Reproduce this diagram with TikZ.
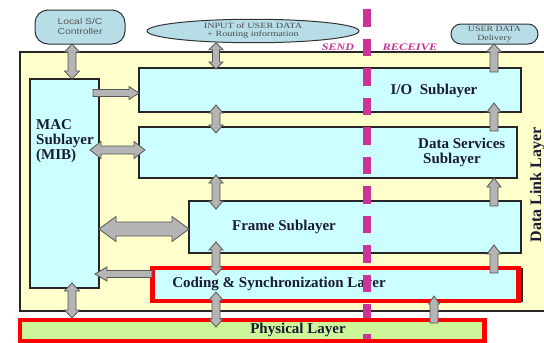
\documentclass[tikz,border=0pt]{standalone}
\usepackage{fontspec}
\setmainfont{Liberation Serif}
\newfontfamily\arialf{Liberation Sans}
\usetikzlibrary{calc,shapes.geometric}
\definecolor{cyanbox}{HTML}{CCFFFF}
\definecolor{yel}{HTML}{FFFFCC}
\definecolor{ovalc}{HTML}{B7DDE6}
\definecolor{physc}{HTML}{CCF59A}
\definecolor{mag}{HTML}{CC3399}
\definecolor{arrfill}{HTML}{B4B4B4}
\definecolor{arrline}{HTML}{555555}
\definecolor{txt}{HTML}{1A1A33}
\newcommand\sx[2]{\scalebox{#1}[1]{#2}}
\tikzset{
  layerbox/.style={draw=black!85, line width=1.1pt, fill=cyanbox, anchor=north west, inner sep=0pt, outer sep=0pt},
  ovalbox/.style={draw=black!80, line width=1pt, fill=ovalc, inner sep=0pt, outer sep=0pt},
  blockarr/.style={draw=arrline, fill=arrfill, line width=0.8pt, line join=miter},
  redframe/.style={draw=red, line width=4.5pt},
  lbl/.style={font=\fontsize{15}{15}\selectfont\bfseries, text=txt, inner sep=0pt},
  smalltxt/.style={text=black!70, inner sep=0pt},
  sr/.style={font=\fontsize{10}{10}\selectfont\bfseries\itshape, text=mag, inner sep=0pt},
}
% double block arrow: #1 end A, #2 end B, #3 shaft half width, #4 head half width, #5 head length
\newcommand\dblarr[5]{%
  \pgfmathsetmacro\bDs{sqrt(#5*#5+#3*#3)}%
  \pgfmathsetmacro\bAs{atan(#3/#5)}%
  \pgfmathsetmacro\bDw{sqrt(#5*#5+#4*#4)}%
  \pgfmathsetmacro\bAw{atan(#4/#5)}%
  \draw[blockarr] (#1) -- ($(#1)!\bDw pt!\bAw:(#2)$) -- ($(#1)!\bDs pt!\bAs:(#2)$)
    -- ($(#2)!\bDs pt!-\bAs:(#1)$) -- ($(#2)!\bDw pt!-\bAw:(#1)$) -- (#2)
    -- ($(#2)!\bDw pt!\bAw:(#1)$) -- ($(#2)!\bDs pt!\bAs:(#1)$)
    -- ($(#1)!\bDs pt!-\bAs:(#2)$) -- ($(#1)!\bDw pt!-\bAw:(#2)$) -- cycle;}
% single block arrow: #1 tail, #2 tip
\newcommand\sglarr[5]{%
  \pgfmathsetmacro\bDs{sqrt(#5*#5+#3*#3)}%
  \pgfmathsetmacro\bAs{atan(#3/#5)}%
  \pgfmathsetmacro\bDw{sqrt(#5*#5+#4*#4)}%
  \pgfmathsetmacro\bAw{atan(#4/#5)}%
  \draw[blockarr] ($(#1)!#3pt!90:(#2)$) -- ($(#2)!\bDs pt!-\bAs:(#1)$) -- ($(#2)!\bDw pt!-\bAw:(#1)$)
    -- (#2) -- ($(#2)!\bDw pt!\bAw:(#1)$) -- ($(#2)!\bDs pt!\bAs:(#1)$)
    -- ($(#1)!#3pt!-90:(#2)$) -- cycle;}
\begin{document}
\begin{tikzpicture}[x=1pt,y=-1pt]
\useasboundingbox (0,0) rectangle (544,343);
\clip (0,0) rectangle (544,343);
\fill[white] (0,0) rectangle (544,343);
% Data link layer frame
\node[layerbox, fill=yel, minimum width=560pt, minimum height=259pt] (dll) at (20,52) {};
\node[font=\fontsize{16}{16}\selectfont\bfseries, text=txt, rotate=90, anchor=base, inner sep=0pt] (dllL) at (541,185) {Data Link Layer};
% sublayers
\node[layerbox, minimum width=69pt, minimum height=209pt] (mac) at (30,79) {};
\node[layerbox, minimum width=382pt, minimum height=44pt] (io) at (139,68) {};
\node[layerbox, minimum width=378pt, minimum height=51pt] (ds) at (139,127) {};
\node[layerbox, minimum width=332pt, minimum height=52pt] (fr) at (189,201) {};
\node[layerbox, minimum width=369pt, minimum height=32pt] (co) at (153,269) {};
\node[anchor=north west, fill=physc, minimum width=464.5pt, minimum height=21pt, inner sep=0pt, outer sep=0pt] (ph) at (20,320) {};
% outer ovals
\node[ovalbox, rounded corners=13pt, minimum width=90pt, minimum height=34pt] (loc) at (80,27)
  {\fontsize{8.5}{10}\selectfont\arialf\color{black!65}\sx{1.22}{\begin{tabular}{@{}c@{}}Local S/C\\Controller\end{tabular}}};
\node[ovalbox, ellipse, minimum width=212pt, minimum height=22pt] (inp) at (253,31)
  {\fontsize{8}{8.3}\selectfont\color{black!70}\sx{1.27}{\begin{tabular}{@{}c@{}}INPUT of USER DATA\\+ Routing information\end{tabular}}};
\node[ovalbox, rounded corners=10pt, minimum width=87pt, minimum height=20pt] (del) at (494.5,34)
  {\fontsize{8}{9.5}\selectfont\color{black!70}\sx{1.23}{\begin{tabular}{@{}c@{}}USER DATA\\Delivery\end{tabular}}};
% send / receive
\node[sr] (send) at (338,47) {\sx{1.2}{SEND}};
\node[sr] (recv) at (410,47) {\sx{1.25}{RECEIVE}};
% labels
\node[lbl, anchor=north west, align=left] (macL) at (36,119) {MAC\\Sublayer\\(MIB)};
\node[lbl] (ioL) at (434,91) {I/O\ \ Sublayer};
\node[lbl, align=left, anchor=west] (dsL) at (418,152) {Data Services\\\hspace*{5pt}Sublayer};
\node[lbl] (frL) at (284,227) {Frame Sublayer};
\node[lbl] (coL) at (279,284) {Coding \& Synchronization Layer};
\node[lbl] (phL) at (298,330) {Physical Layer};
% send/receive divider
\coordinate (dtop) at (367,9);
\coordinate (dbot) at (367,360);
\draw[mag, line width=7.5pt, dash pattern=on 17.5pt off 12pt] (dtop) -- (dbot);
% red highlight frames
\draw[redframe] ($(co.north west)+(-0.5,-1)$) rectangle ($(co.south east)+(-3.5,0)$);
\draw[redframe] (ph.north west) rectangle (ph.south east);
% arrow end points
\coordinate (c1a) at (loc.south -| 72,0);
\coordinate (c1b) at (mac.north -| 72,0);
\coordinate (c2a) at (inp.south -| 216,0);
\coordinate (c2b) at ($(io.north -| 216,0)+(0,1)$);
\coordinate (c3a) at ($(io.north -| 494,0)+(0,4)$);
\coordinate (c3b) at (del.south -| 494,0);
\coordinate (c4a) at ($(mac.east |- 0,93)+(-6,0)$);
\coordinate (c4b) at (io.west |- 0,93);
\coordinate (c5a) at ($(io.south -| 216,0)+(0,-7)$);
\coordinate (c5b) at ($(ds.north -| 216,0)+(0,6)$);
\coordinate (c6a) at ($(ds.south -| 216,0)+(0,-3)$);
\coordinate (c6b) at ($(fr.north -| 216,0)+(0,8)$);
\coordinate (c7a) at ($(fr.south -| 216,0)+(0,-11)$);
\coordinate (c7b) at ($(co.north -| 216,0)+(0,6)$);
\coordinate (c8a) at ($(co.south -| 216,0)+(0,-9)$);
\coordinate (c8b) at ($(ph.north -| 216,0)+(0,7)$);
\coordinate (c9a) at ($(ds.north -| 494,0)+(0,4)$);
\coordinate (c9b) at ($(io.south -| 494,0)+(0,-9)$);
\coordinate (c10a) at ($(fr.north -| 494,0)+(0,5)$);
\coordinate (c10b) at (ds.south -| 494,0);
\coordinate (c11a) at ($(co.north -| 494,0)+(0,4)$);
\coordinate (c11b) at ($(fr.south -| 494,0)+(0,-8)$);
\coordinate (c12a) at ($(ph.north -| 434,0)+(0,3)$);
\coordinate (c12b) at ($(co.south -| 434,0)+(0,-5)$);
\coordinate (c13a) at ($(mac.east |- 0,150)+(-9,0)$);
\coordinate (c13b) at ($(ds.west |- 0,150)+(6,0)$);
\coordinate (c14a) at (mac.east |- 0,229);
\coordinate (c14b) at (fr.west |- 0,229);
\coordinate (c15a) at ($(co.west |- 0,274)+(-1,0)$);
\coordinate (c15b) at ($(mac.east |- 0,274)+(-4,0)$);
\coordinate (c16a) at ($(mac.south -| 72,0)+(0,-5)$);
\coordinate (c16b) at ($(ph.north -| 72,0)+(0,-2)$);
% arrows
\dblarr{c1a}{c1b}{4}{7.5}{8}
\dblarr{c2a}{c2b}{3.5}{7}{7}
\sglarr{c3a}{c3b}{4}{7.5}{8}
\sglarr{c4a}{c4b}{3.5}{6.5}{10}
\dblarr{c5a}{c5b}{4}{7}{8}
\dblarr{c6a}{c6b}{4}{7}{8}
\dblarr{c7a}{c7b}{4}{7}{8}
\dblarr{c8a}{c8b}{4}{7}{8}
\sglarr{c9a}{c9b}{4}{7}{9}
\sglarr{c10a}{c10b}{4}{7}{9}
\sglarr{c11a}{c11b}{4}{7}{9}
\sglarr{c12a}{c12b}{4}{5.5}{8}
\dblarr{c13a}{c13b}{4}{8.5}{11}
\dblarr{c14a}{c14b}{7}{12.5}{17}
\sglarr{c15a}{c15b}{3.5}{7}{12}
\dblarr{c16a}{c16b}{4}{7.5}{8}
\end{tikzpicture}
\end{document}
